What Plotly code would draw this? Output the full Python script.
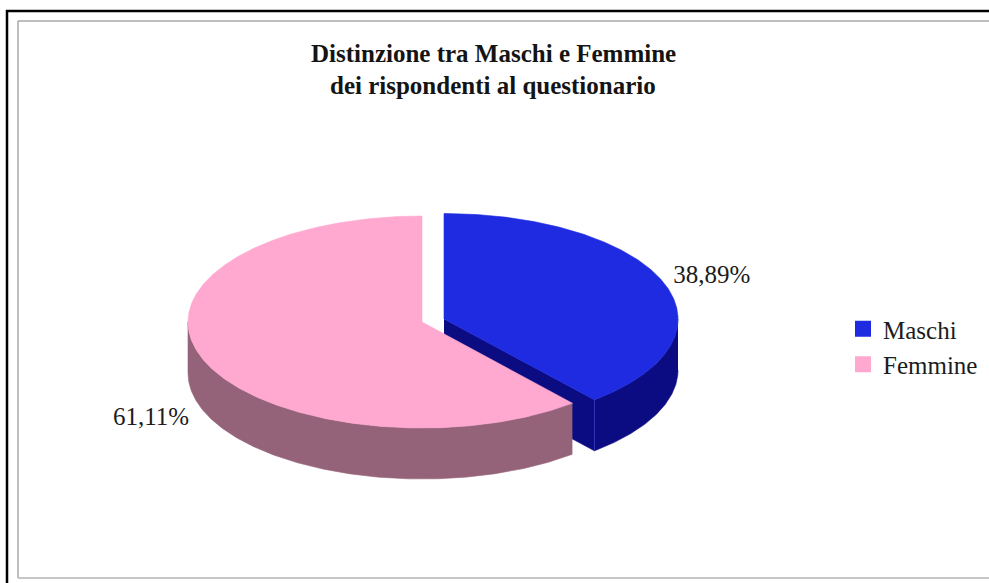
import numpy as np
import plotly.graph_objects as go

categories = ["Maschi", "Femmine"]
percentages = [38.89, 61.11]
title_lines = ["Distinzione tra Maschi e Femmine", "dei rispondenti al questionario"]

TOP = {"Maschi": "#1f2be0", "Femmine": "#ffa9d1"}
WALL = {"Maschi": "#0b0b82", "Femmine": "#956379"}
CENTER = {"Maschi": (444, 319), "Femmine": (422, 322)}
RX, RY = {"Maschi": 234, "Femmine": 234}, {"Maschi": 105.5, "Femmine": 106}
DEPTH = 51
FONT = "Liberation Serif"
TEXT = "#1c1c1c"
LABEL_OFFSET = {"Maschi": (48, -6), "Femmine": (-51, 60)}


def point(name, deg):
    a = np.radians(deg)
    cx, cy = CENTER[name]
    return cx + RX[name] * np.sin(a), cy - RY[name] * np.cos(a)


def arc(name, a0, a1):
    deg = np.linspace(a0, a1, max(int(abs(a1 - a0)) * 2, 2))
    return point(name, deg)


def poly(xs, ys, color, line=None):
    return go.Scatter(x=xs, y=ys, mode="lines", fill="toself", fillcolor=color,
                      line=dict(color=line or color, width=0.6),
                      hoverinfo="skip", showlegend=False)


fig = go.Figure()
spans = {}
start = 0.0
for name, pct in zip(categories, percentages):
    spans[name] = (start, start + pct * 3.6)
    start += pct * 3.6

for name in categories:
    a0, a1 = spans[name]
    cx, cy = CENTER[name]
    if name == "Maschi":
        ex, ey = point(name, a1)
        fig.add_trace(poly([cx, ex, ex, cx], [cy, ey, ey + DEPTH, cy + DEPTH], WALL[name]))
    w0, w1 = max(a0, 90), min(a1, 270)
    ax, ay = arc(name, w0, w1)
    fig.add_trace(poly(np.r_[ax, ax[::-1]], np.r_[ay, ay[::-1] + DEPTH], WALL[name]))
    tx, ty = arc(name, a0, a1)
    fig.add_trace(poly(np.r_[cx, tx, cx], np.r_[cy, ty, cy], TOP[name]))
    if name == "Maschi":
        ex, ey = point(name, a1)
        fig.add_trace(go.Scatter(x=[ex, ex], y=[ey, ey + DEPTH], mode="lines",
                                 line=dict(color="#3434b8", width=1),
                                 hoverinfo="skip", showlegend=False))

# Percentage labels
for name, pct in zip(categories, percentages):
    a0, a1 = spans[name]
    mx, my = point(name, (a0 + a1) / 2)
    dx, dy = LABEL_OFFSET[name]
    fig.add_trace(go.Scatter(x=[mx + dx], y=[my + dy], mode="text",
                             text=[f"{pct:.2f}%".replace(".", ",")],
                             textposition="middle center",
                             textfont=dict(family=FONT, size=25, color=TEXT),
                             hoverinfo="skip", showlegend=False))

# Legend keys
for name in categories:
    fig.add_trace(go.Scatter(x=[None], y=[None], mode="markers", name=name,
                             legendgroup=name,
                             marker=dict(symbol="square", size=16, color=TOP[name])))

frame = [
    dict(x0=7, x1=7, y0=10, y1=583, color="#000000", width=2.5),
    dict(x0=6, x1=989, y0=11, y1=11, color="#000000", width=2.5),
    dict(x0=18, x1=18, y0=21, y1=578, color="#a8a8a8", width=1.5),
    dict(x0=18, x1=989, y0=21, y1=21, color="#a8a8a8", width=1.5),
    dict(x0=18, x1=989, y0=578, y1=578, color="#b4b4b4", width=1.5),
]
shapes = [dict(type="line", xref="x", yref="y", x0=s["x0"], x1=s["x1"], y0=s["y0"], y1=s["y1"],
               line=dict(color=s["color"], width=s["width"]), layer="below") for s in frame]

annotations = [
    dict(text=f"<b>{line}</b>", x=493, y=y, xref="x", yref="y", showarrow=False,
         font=dict(family=FONT, size=25, color="#141414"), xanchor="center", yanchor="middle")
    for line, y in zip(title_lines, (53, 85))
]

fig.update_layout(
    width=989, height=583, margin=dict(l=0, r=0, t=0, b=0, autoexpand=False),
    paper_bgcolor="white", plot_bgcolor="white",
    xaxis=dict(range=[0, 989], visible=False, fixedrange=True),
    yaxis=dict(range=[583, 0], visible=False, fixedrange=True),
    shapes=shapes, annotations=annotations,
    legend=dict(x=843 / 989, y=1 - 306 / 583, xanchor="left", yanchor="top",
                bgcolor="rgba(0,0,0,0)", tracegroupgap=0, itemwidth=30,
                font=dict(family=FONT, size=25, color=TEXT)),
)
fig.write_html("out.html", config={"displayModeBar": False},
               post_script="document.documentElement.style.overflow='hidden';document.body.style.margin='0';")
